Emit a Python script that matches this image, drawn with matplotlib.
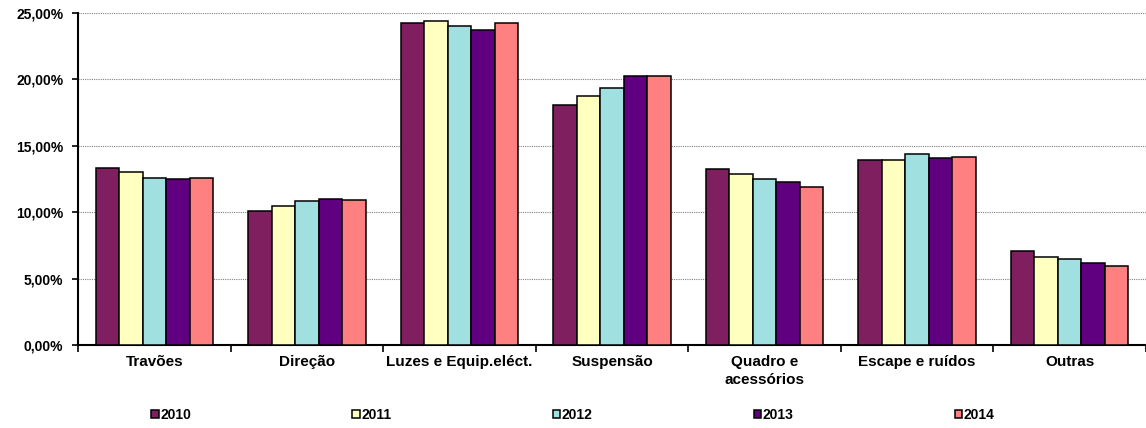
import numpy as np
import matplotlib
matplotlib.use("Agg")
import matplotlib.pyplot as plt
from matplotlib.ticker import FuncFormatter, MultipleLocator

plt.rcParams['font.family'] = ['Liberation Sans', 'DejaVu Sans']

# Dados (% de deficiências por categoria)
categorias = ["Travões", "Direção", "Luzes e Equip.eléct.", "Suspensão",
              "Quadro e\nacessórios", "Escape e ruídos", "Outras"]
anos = ["2010", "2011", "2012", "2013", "2014"]
v2010 = [13.30, 10.11, 24.22, 18.10, 13.25, 13.95, 7.10]
v2011 = [13.05, 10.47, 24.37, 18.72, 12.90, 13.93, 6.63]
v2012 = [12.55, 10.84, 24.02, 19.38, 12.48, 14.36, 6.48]
v2013 = [12.52, 10.99, 23.74, 20.28, 12.30, 14.08, 6.15]
v2014 = [12.58, 10.94, 24.22, 20.26, 11.90, 14.18, 5.97]
series = [v2010, v2011, v2012, v2013, v2014]
cores = ["#7F1F5F", "#FFFFC0", "#A0E0E0", "#600080", "#FF8080"]

fig = plt.figure(figsize=(11.46, 4.28), dpi=100)
ax = fig.add_axes([78 / 1146, 1 - 345 / 428, 1068 / 1146, 332 / 428])

x = np.arange(len(categorias))
w = 0.154
for i, (vals, cor, ano) in enumerate(zip(series, cores, anos)):
    ax.bar(x + (i - 2) * w, vals, width=w, color=cor, edgecolor="black",
           linewidth=1.1, label=ano, zorder=3)

ax.set_xlim(-0.5, len(categorias) - 0.5)
ax.set_ylim(0, 25)
ax.yaxis.set_major_locator(MultipleLocator(5))
ax.yaxis.set_major_formatter(FuncFormatter(lambda v, p: f"{v:.2f}%".replace(".", ",")))
ax.grid(axis="y", linestyle=(0, (1, 1)), color="#808080", linewidth=0.8, zorder=0)

# ticks do eixo x nas fronteiras das categorias
ax.set_xticks(np.arange(len(categorias) + 1) - 0.5)
ax.set_xticklabels([])
ax.set_xticks(x, minor=True)
ax.set_xticklabels(categorias, minor=True, fontsize=11, fontweight="bold",
                   linespacing=1.35)
ax.tick_params(axis="x", which="minor", length=0, pad=7)
ax.tick_params(axis="x", which="major", length=5, width=1.2, direction="out")
ax.tick_params(axis="y", length=4.5, width=1.2, direction="out", labelsize=10, pad=6)
for lab in ax.get_yticklabels():
    lab.set_fontweight("bold")

for s in ["top", "right"]:
    ax.spines[s].set_visible(False)
ax.spines["left"].set_linewidth(1.5)
ax.spines["bottom"].set_linewidth(1.5)

fig.legend(loc="lower center", bbox_to_anchor=(0.5, -0.015), ncol=5, frameon=False,
           prop={"weight": "bold", "size": 10}, handlelength=0.55, handleheight=0.55,
           handletextpad=0.1, columnspacing=11.6)

fig.savefig("out.png", dpi=100)
